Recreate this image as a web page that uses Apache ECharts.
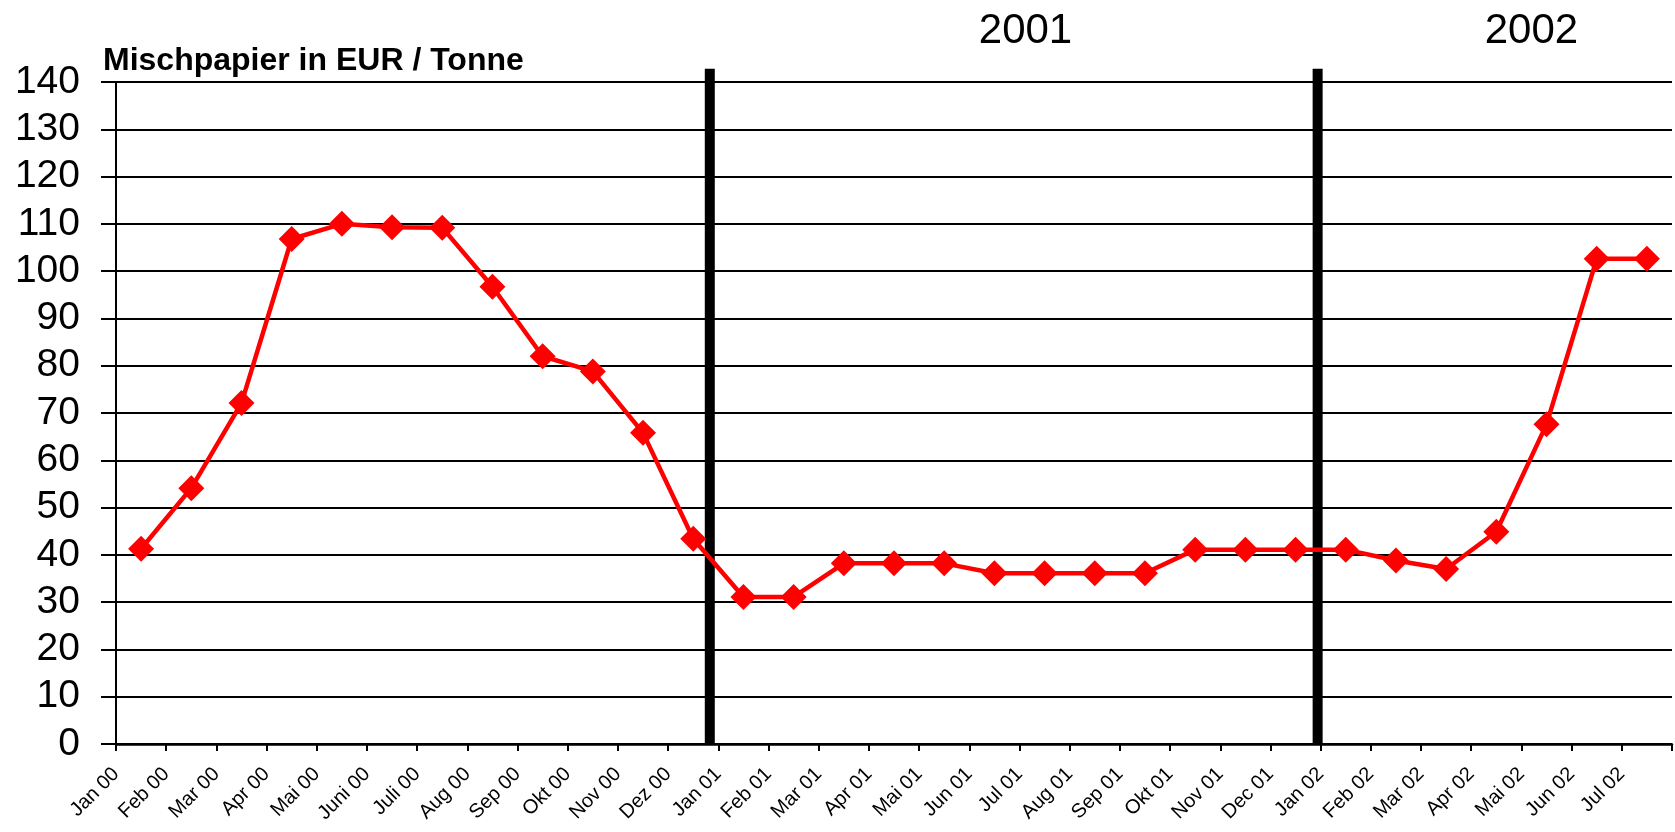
<!DOCTYPE html>
<html>
<head>
<meta charset="utf-8">
<title>Mischpapier in EUR / Tonne</title>
<script src="https://cdn.jsdelivr.net/npm/echarts@6/dist/echarts.min.js"></script>
<style>
  html, body { margin: 0; padding: 0; background: #ffffff; }
  #chart { width: 1675px; height: 832px; }
</style>
</head>
<body>
<div id="chart"></div>
<script>
// Monthly price of mixed waste paper, Jan 2000 - Jul 2002
const months = [
  'Jan 00', 'Feb 00', 'Mar 00', 'Apr 00', 'Mai 00', 'Juni 00', 'Juli 00', 'Aug 00',
  'Sep 00', 'Okt 00', 'Nov 00', 'Dez 00',
  'Jan 01', 'Feb 01', 'Mar 01', 'Apr 01', 'Mai 01', 'Jun 01', 'Jul 01', 'Aug 01',
  'Sep 01', 'Okt 01', 'Nov 01', 'Dec 01',
  'Jan 02', 'Feb 02', 'Mar 02', 'Apr 02', 'Mai 02', 'Jun 02', 'Jul 02'
];
const prices = [
  41.3, 54.1, 72.1, 106.8, 110.0, 109.3, 109.2, 96.7, 82.0, 78.8, 65.8, 43.4,
  31.1, 31.1, 38.2, 38.2, 38.2, 36.1, 36.1, 36.1, 36.1, 41.1, 41.1, 41.1,
  41.1, 38.8, 37.0, 44.9, 67.6, 102.6, 102.6
];
// Year separators (position on the month scale) and year captions
const yearBreaks = [11.83, 23.94];
const yearNames = ['2001', '2002'];
const yearCaptionPos = [18.12, 28.2];

const FONT = "'Liberation Sans', Arial, Helvetica, sans-serif";

// Points sit in the middle of each month slot; slot edges carry the labels
const lineData = prices.map((v, i) => [i + 0.5, v]);

const breakSeries = yearBreaks.map(x => ({
  type: 'line',
  data: [[x, 0.1], [x, 142.8]],
  symbol: 'none',
  clip: false,
  silent: true,
  z: 3,
  lineStyle: { color: '#000000', width: 10 }
}));

const captionSeries = {
  type: 'scatter',
  data: yearNames.map((name, i) => [yearCaptionPos[i], 150.8, name]),
  symbolSize: 0,
  clip: false,
  silent: true,
  itemStyle: { opacity: 1 },
  label: {
    show: true,
    position: 'inside',
    formatter: p => p.value[2],
    color: '#000000',
    opacity: 1,
    textBorderWidth: 0,
    fontFamily: FONT,
    fontSize: 42
  }
};

const chart = echarts.init(document.getElementById('chart'), null, { renderer: 'canvas' });
chart.setOption({
  animation: false,
  backgroundColor: '#ffffff',
  title: {
    text: 'Mischpapier in EUR / Tonne',
    left: 103,
    top: 45,
    padding: 0,
    textStyle: { fontFamily: FONT, fontWeight: 'bold', fontSize: 32, color: '#000000' }
  },
  grid: { left: 116, right: 3, top: 82, bottom: 88, containLabel: false },
  xAxis: {
    type: 'value',
    min: 0,
    max: months.length,
    interval: 1,
    axisLine: { show: true, onZero: false, lineStyle: { color: '#000000', width: 2.5 } },
    axisTick: { show: true, length: 7, lineStyle: { color: '#000000', width: 2 } },
    splitLine: { show: false },
    axisLabel: {
      rotate: 45,
      margin: 27,
      fontFamily: FONT,
      fontSize: 20,
      color: '#000000',
      showMaxLabel: true,
      formatter: v => months[Math.round(v)] || ''
    }
  },
  yAxis: {
    type: 'value',
    min: 0,
    max: 140,
    interval: 10,
    axisLine: { show: true, lineStyle: { color: '#000000', width: 2 } },
    axisTick: { show: true, length: 15, lineStyle: { color: '#000000', width: 2 } },
    splitLine: { show: true, lineStyle: { color: '#000000', width: 2 } },
    axisLabel: {
      margin: 36,
      fontFamily: FONT,
      fontSize: 39,
      color: '#000000'
    }
  },
  series: [
    ...breakSeries,
    {
      type: 'line',
      data: lineData,
      z: 4,
      symbol: 'diamond',
      symbolSize: 26,
      itemStyle: { color: '#ff0000' },
      lineStyle: { color: '#ff0000', width: 4.5 }
    },
    captionSeries
  ]
});
</script>
</body>
</html>
